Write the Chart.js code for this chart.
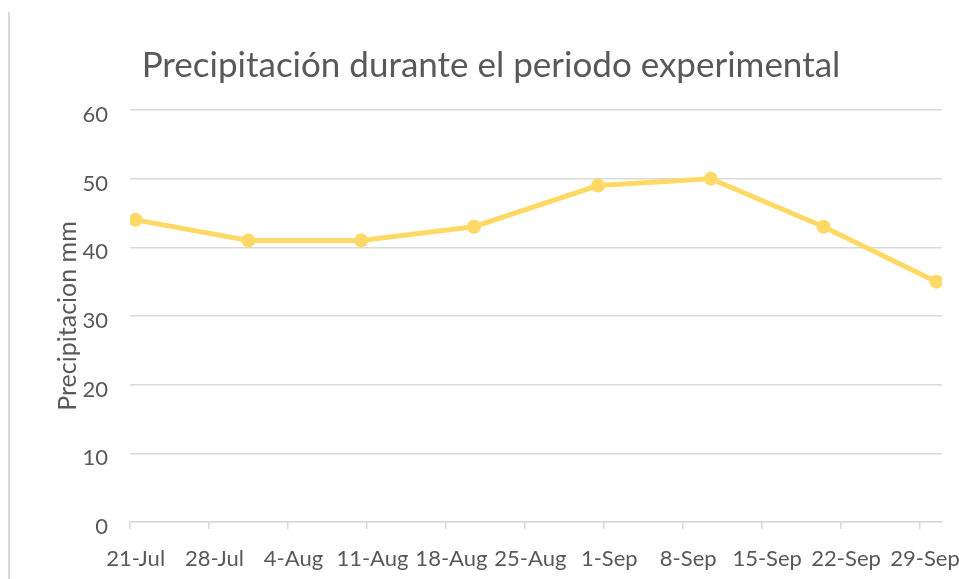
<!DOCTYPE html>
<html lang="es">
<head>
<meta charset="utf-8">
<title>Precipitación durante el periodo experimental</title>
<script src="https://cdn.jsdelivr.net/npm/chart.js@4/dist/chart.umd.min.js"></script>
<style>
  html, body { margin: 0; padding: 0; background: #ffffff; }
  #marco { position: relative; width: 959px; height: 579px; }
  #borde { position: absolute; left: 8px; top: 12px; width: 2px; height: 567px; background: #d9d9d9; }
  canvas { position: absolute; left: 0; top: 0; }
</style>
</head>
<body>
<div id="marco">
  <canvas id="graficoLluvia" width="959" height="579"></canvas>
  <div id="borde"></div>
</div>
<script>
// fechas de medición y precipitación (mm)
const fechas = ["2019-07-21", "2019-07-31", "2019-08-10", "2019-08-20", "2019-08-31", "2019-09-10", "2019-09-20", "2019-09-30"];
const precipitacion = [44, 41, 41, 43, 49, 50, 43, 35];

// eje de fechas: inicio, días mostrados, paso de las etiquetas
const inicioEje = "2019-07-21";
const diasEje = 72;
const pasoDias = 7;
const meses = ["Jan", "Feb", "Mar", "Apr", "May", "Jun", "Jul", "Aug", "Sep", "Oct", "Nov", "Dec"];

const yTicks = [0, 10, 20, 30, 40, 50, 60];

const DIA_MS = 24 * 60 * 60 * 1000;
const t0 = Date.parse(inicioEje + "T00:00:00Z");

function diaDesdeInicio(fecha) {
  return Math.round((Date.parse(fecha + "T00:00:00Z") - t0) / DIA_MS);
}

function etiquetaFecha(dia) {
  const d = new Date(t0 + dia * DIA_MS);
  return `${d.getUTCDate()}-${meses[d.getUTCMonth()]}`;
}

// cada punto va al centro de su día
const puntos = fechas.map((f, i) => ({ x: diaDesdeInicio(f) + 0.5, y: precipitacion[i] }));

const gris = "#d9d9d9";
const texto = "#595959";
const fuente = "Lato";

const ctx = document.getElementById("graficoLluvia").getContext("2d");

new Chart(ctx, {
  type: "line",
  data: {
    datasets: [{
      label: "Precipitación",
      data: puntos,
      borderColor: "#ffd966",
      backgroundColor: "#ffd966",
      borderWidth: 5,
      pointRadius: 7,
      pointHoverRadius: 7,
      pointBorderWidth: 0,
      tension: 0,
      fill: false
    }]
  },
  options: {
    responsive: false,
    animation: false,
    layout: {
      padding: { left: 40, right: 17, top: 25, bottom: 0 }
    },
    plugins: {
      legend: { display: false },
      tooltip: { enabled: false },
      title: {
        display: true,
        text: "Precipitación durante el periodo experimental",
        color: texto,
        font: { family: fuente, size: 35, weight: "normal" },
        padding: { top: 20, bottom: 23 }
      }
    },
    scales: {
      x: {
        type: "linear",
        min: 0,
        max: diasEje,
        afterFit: (scale) => {
          scale.height = 57;
          scale.paddingLeft = 0;
          scale.paddingRight = 0;
        },
        afterBuildTicks: (scale) => {
          const t = [];
          for (let d = 0; d < diasEje; d += pasoDias) t.push({ value: d });
          scale.ticks = t;
        },
        ticks: {
          color: texto,
          font: { family: fuente, size: 22 },
          padding: 17,
          labelOffset: 5.6,
          maxRotation: 0,
          autoSkip: false,
          callback: (v) => etiquetaFecha(v)
        },
        grid: {
          drawOnChartArea: false,
          drawTicks: true,
          tickLength: 7,
          color: gris,
          lineWidth: 1.5
        },
        border: { display: true, color: gris, width: 1.5 }
      },
      y: {
        min: 0,
        max: 60,
        afterFit: (scale) => { scale.width = 90; },
        afterBuildTicks: (scale) => {
          scale.ticks = yTicks.map(v => ({ value: v }));
        },
        ticks: {
          color: texto,
          font: { family: fuente, size: 22 },
          padding: 22,
          labelOffset: 5
        },
        grid: {
          drawTicks: false,
          color: gris,
          lineWidth: 1.5
        },
        border: { display: false },
        title: {
          display: true,
          text: "Precipitacion mm",
          color: texto,
          font: { family: fuente, size: 25 },
          padding: { top: 13, bottom: 0 }
        }
      }
    }
  }
});
</script>
</body>
</html>
